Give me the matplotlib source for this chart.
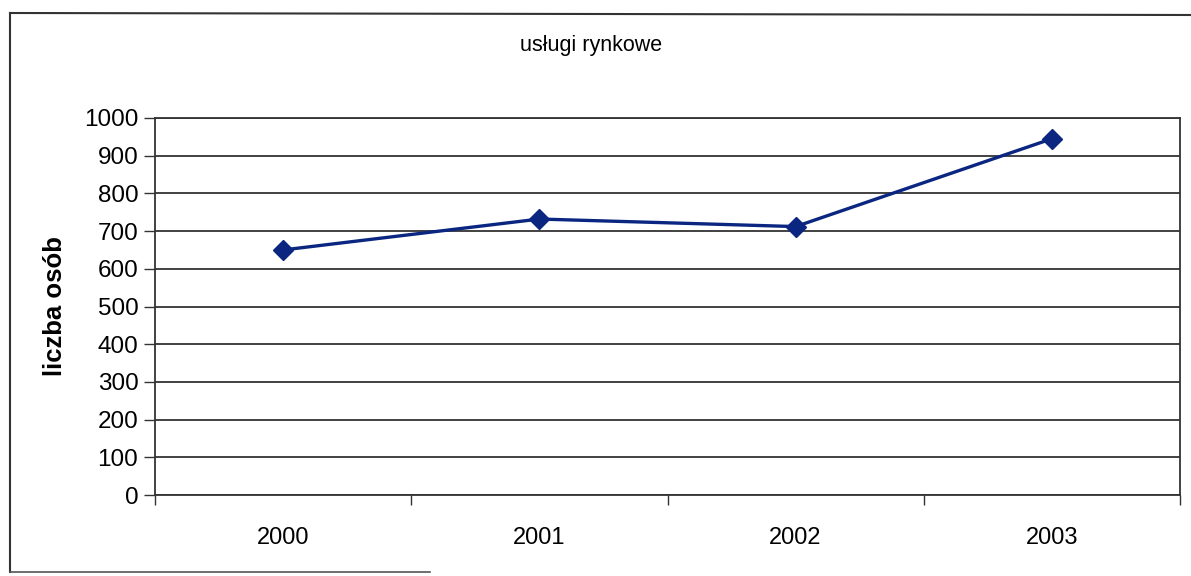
import matplotlib
matplotlib.use("Agg")
import matplotlib.pyplot as plt
from matplotlib.lines import Line2D

# data
years = ["2000", "2001", "2002", "2003"]
persons = [650, 732, 712, 945]
y_ticks = [0, 100, 200, 300, 400, 500, 600, 700, 800, 900, 1000]

plt.rcParams['font.family'] = ['Liberation Sans', 'DejaVu Sans']

W, H = 1191, 576
fig = plt.figure(figsize=(W / 100, H / 100), dpi=100)
ax = fig.add_axes([155 / W, (H - 495) / H, (1180 - 155) / W, (495 - 118) / H])

x = list(range(len(years)))
ax.plot(x, persons, color='#0a2680', lw=2.4, marker='D', markersize=10.5,
        markeredgecolor='#0a2680', markerfacecolor='#0a2680', zorder=3)

ax.set_xlim(-0.5, len(years) - 0.5)
ax.set_ylim(0, 1000)
ax.set_yticks(y_ticks)
ax.set_yticklabels([str(v) for v in y_ticks], fontsize=17.5)
ax.set_xticks(x)
ax.set_xticklabels(years, fontsize=17)
ax.set_xticks([i - 0.5 for i in range(len(years) + 1)], minor=True)

ax.tick_params(axis='x', which='major', length=0, pad=23)
ax.tick_params(axis='x', which='minor', length=7, width=1, color='#333333')
ax.tick_params(axis='y', length=8, width=1, color='#333333', pad=4)

ax.grid(axis='y', color='#333333', lw=1.3)
ax.set_axisbelow(True)
for s in ax.spines.values():
    s.set_color('#333333')
    s.set_linewidth(1.3)

ax.set_ylabel('liczba osób', fontsize=18.5, fontweight='bold', labelpad=12)

fig.text(591 / W, 1 - 45 / H, 'usługi rynkowe', ha='center', va='center', fontsize=15.5)

# outer chart frame (right side runs off the scan)
fig.add_artist(Line2D([10 / W, 10 / W], [1 - 13 / H, 1 - 572 / H], color='#333333', lw=1.5))
fig.add_artist(Line2D([10 / W, 1.0], [1 - 13 / H, 1 - 15 / H], color='#333333', lw=1.5))
fig.add_artist(Line2D([10 / W, 430 / W], [1 - 572 / H, 1 - 572 / H], color='#555555', lw=1.2))

fig.savefig('out.png', dpi=100, facecolor='white')
